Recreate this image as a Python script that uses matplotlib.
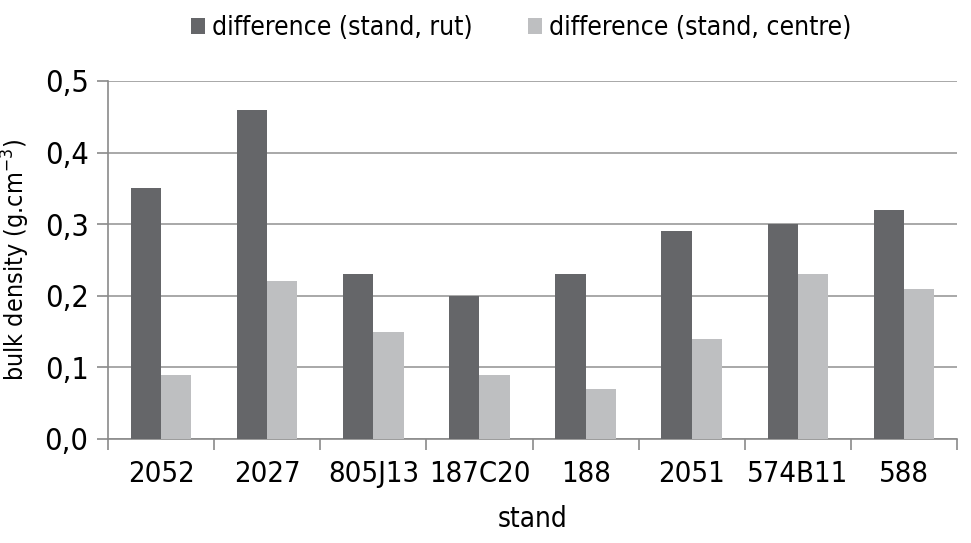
import matplotlib.pyplot as plt
import numpy as np

plt.rcParams['font.family'] = ['DejaVu Sans']
plt.rcParams['font.stretch'] = 'condensed'

stands = ["2052", "2027", "805J13", "187C20", "188", "2051", "574B11", "588"]
rut = [0.35, 0.46, 0.23, 0.20, 0.23, 0.29, 0.30, 0.32]
centre = [0.09, 0.22, 0.15, 0.09, 0.07, 0.14, 0.23, 0.21]

fig = plt.figure(figsize=(9.71, 5.43), dpi=100)
ax = fig.add_axes([108/971, 1 - 439/543, (957-108)/971, (439-81)/543])

x = np.arange(len(stands))
w = 0.285
ax.bar(x - w/2, rut, w, color="#656669", label="difference (stand, rut)", zorder=3)
ax.bar(x + w/2, centre, w, color="#bebfc1", label="difference (stand, centre)", zorder=3)

ax.set_xlim(-0.5, len(stands) - 0.5)
ax.set_ylim(0, 0.5)
ax.set_yticks(np.arange(0, 0.51, 0.1))
ax.set_yticklabels([f"{v:.1f}".replace(".", ",") for v in np.arange(0, 0.51, 0.1)], fontsize=22)
ax.set_xticks(x)
ax.set_xticklabels(stands, fontsize=21)
ax.tick_params(axis="x", length=0, pad=15)
ax.set_xticks(np.arange(-0.5, len(stands), 1), minor=True)
ax.tick_params(axis="x", which="minor", length=8, color="#8a8a8a", width=1.2)
ax.tick_params(axis="y", length=8, color="#8a8a8a", width=1.2, pad=6)

ax.grid(axis="y", color="#9a9a9a", linewidth=1.2, zorder=0)
for s in ["top", "right"]:
    ax.spines[s].set_visible(False)
for s in ["left", "bottom"]:
    ax.spines[s].set_color("#8a8a8a")
    ax.spines[s].set_linewidth(1.2)

ax.set_ylabel("bulk density (g.cm$^{-3}$)", fontsize=18)
ax.yaxis.set_label_coords(-0.0895, 0.5)
ax.set_xlabel("stand", fontsize=20)
ax.xaxis.set_label_coords(0.5, -0.184)

fig.legend(loc="center", bbox_to_anchor=(521/971, 1 - 28/543), ncol=2, frameon=False,
           fontsize=19, handlelength=0.55, handleheight=0.55, handletextpad=0.25,
           columnspacing=2.1)

fig.savefig("out.png", dpi=100)
